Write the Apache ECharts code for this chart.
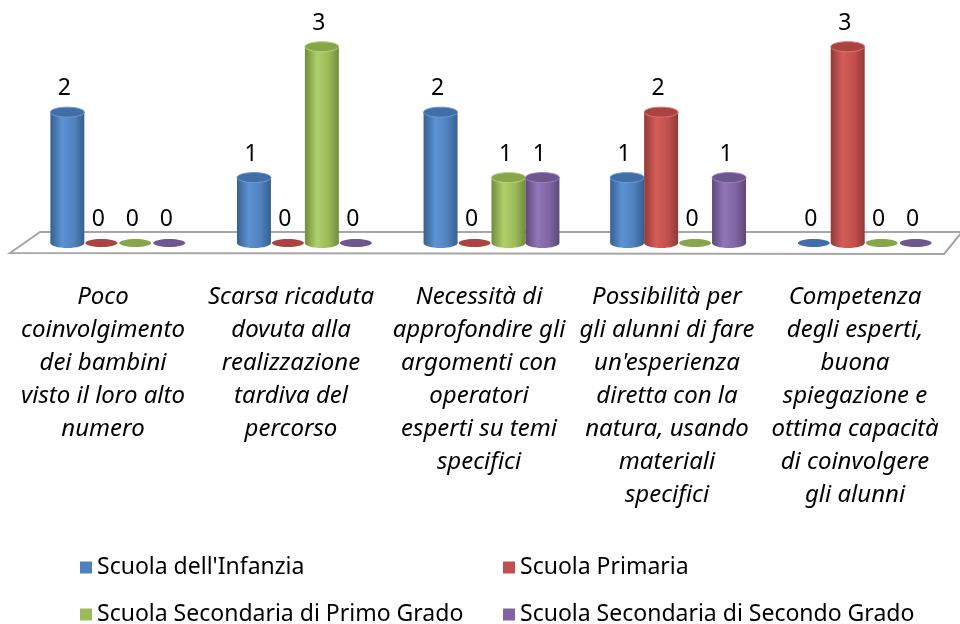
<!DOCTYPE html>
<html>
<head>
<meta charset="utf-8">
<script src="https://cdn.jsdelivr.net/npm/echarts@6/dist/echarts.min.js"></script>
<style>
  html, body { margin: 0; padding: 0; background: #fff; }
  #chart { width: 960px; height: 624px; }
</style>
</head>
<body>
<div id="chart"></div>
<script>
const categories = [
    'Poco\ncoinvolgimento\ndei bambini\nvisto il loro alto\nnumero',
    'Scarsa ricaduta\ndovuta alla\nrealizzazione\ntardiva del\npercorso',
    'Necessità di\napprofondire gli\nargomenti con\noperatori\nesperti su temi\nspecifici',
    'Possibilità per\ngli alunni di fare\nun\'esperienza\ndiretta con la\nnatura, usando\nmateriali\nspecifici',
    'Competenza\ndegli esperti,\nbuona\nspiegazione e\nottima capacità\ndi coinvolgere\ngli alunni'
];
const seriesNames = [
    'Scuola dell\'Infanzia',
    'Scuola Primaria',
    'Scuola Secondaria di Primo Grado',
    'Scuola Secondaria di Secondo Grado'
];
const infanzia = [2, 1, 2, 1, 0];
const primaria = [0, 0, 0, 2, 3];
const primoGrado = [0, 3, 1, 0, 0];
const secondoGrado = [0, 0, 1, 1, 0];
const values = [infanzia, primaria, primoGrado, secondoGrado];

const FONT = '"Noto Sans", sans-serif';

// office 2007 palette, with shades for the cylinder look
const palette = [
    { base: '#4f81bd', dark: '#36608f', light: '#5d93d4', top: '#3f6ea8', rim: '#6d9ad2' },
    { base: '#c0504d', dark: '#933937', light: '#d45d59', top: '#ab4340', rim: '#d77470' },
    { base: '#9bbb59', dark: '#718c3c', light: '#aed06a', top: '#87a64a', rim: '#b4d27a' },
    { base: '#8064a2', dark: '#5d4879', light: '#9176b8', top: '#6e5690', rim: '#9a82bb' }
];

const myChart = echarts.init(document.getElementById('chart'));

function cylinder(idx) {
    const c = palette[idx];
    return function (params, api) {
        const cat = api.value(0);
        const val = api.value(1);
        const base = api.coord([cat, 0]);
        const top = api.coord([cat, val]);
        const band = api.size([1, 0])[0];
        const w = band * 0.182;
        const cx = base[0] + (idx - 1.5) * w;
        const ry = 5;
        const children = [];
        if (val > 0) {
            const fill = new echarts.graphic.LinearGradient(0, 0, 1, 0, [
                { offset: 0, color: c.dark },
                { offset: 0.35, color: c.light },
                { offset: 0.7, color: c.base },
                { offset: 1, color: c.dark }
            ]);
            children.push({
                type: 'ellipse',
                shape: { cx: cx, cy: base[1], rx: w / 2, ry: ry },
                style: { fill: fill }
            });
            children.push({
                type: 'rect',
                shape: { x: cx - w / 2, y: top[1], width: w, height: base[1] - top[1] },
                style: { fill: fill }
            });
            children.push({
                type: 'ellipse',
                shape: { cx: cx, cy: top[1], rx: w / 2, ry: ry },
                style: { fill: c.top, stroke: c.rim, lineWidth: 1 }
            });
        } else {
            children.push({
                type: 'ellipse',
                shape: { cx: cx, cy: base[1], rx: w / 2 - 1, ry: ry - 1 },
                style: { fill: c.top }
            });
        }
        children.push({
            type: 'text',
            style: {
                text: String(val),
                x: cx - 3,
                y: top[1] - ry - 7,
                align: 'center',
                verticalAlign: 'bottom',
                fontSize: 23,
                fontFamily: FONT,
                fill: '#000'
            }
        });
        return { type: 'group', children: children };
    };
}

const legendPos = [[80, 556], [503, 556], [80, 603], [503, 603]];

const option = {
    animation: false,
    backgroundColor: '#fff',
    graphic: [{
        type: 'polygon',
        z: 0,
        shape: { points: [[10, 253], [40, 232], [962, 232], [944, 254]] },
        style: { fill: '#fff', stroke: '#a6a6a6', lineWidth: 2 }
    }],
    legend: seriesNames.map((n, i) => ({
        data: [n],
        left: legendPos[i][0],
        top: legendPos[i][1],
        padding: 0,
        icon: 'rect',
        itemWidth: 12,
        itemHeight: 12,
        itemGap: 0,
        textStyle: { fontSize: 23, fontFamily: FONT, color: '#000' }
    })),
    grid: [
        { left: 25, right: 2, top: 14, bottom: 381 },
        { left: 9, right: 11, top: 200, bottom: 354 }
    ],
    xAxis: [
        { type: 'category', gridIndex: 0, data: categories, show: false },
        {
            type: 'category', gridIndex: 1, data: categories,
            axisLine: { show: false }, axisTick: { show: false },
            axisLabel: {
                interval: 0, margin: 11, fontSize: 24, lineHeight: 33,
                fontStyle: 'italic', fontFamily: FONT, color: '#000'
            }
        }
    ],
    yAxis: [
        { type: 'value', gridIndex: 0, min: 0, max: 3.5, show: false },
        { type: 'value', gridIndex: 1, show: false }
    ],
    series: seriesNames.map((n, i) => ({
        type: 'custom',
        name: n,
        xAxisIndex: 0,
        yAxisIndex: 0,
        z: 5,
        itemStyle: { color: palette[i].base },
        renderItem: cylinder(i),
        data: values[i].map((v, k) => [k, v])
    }))
};

myChart.setOption(option);
window.addEventListener('resize', () => myChart.resize());
</script>
</body>
</html>
